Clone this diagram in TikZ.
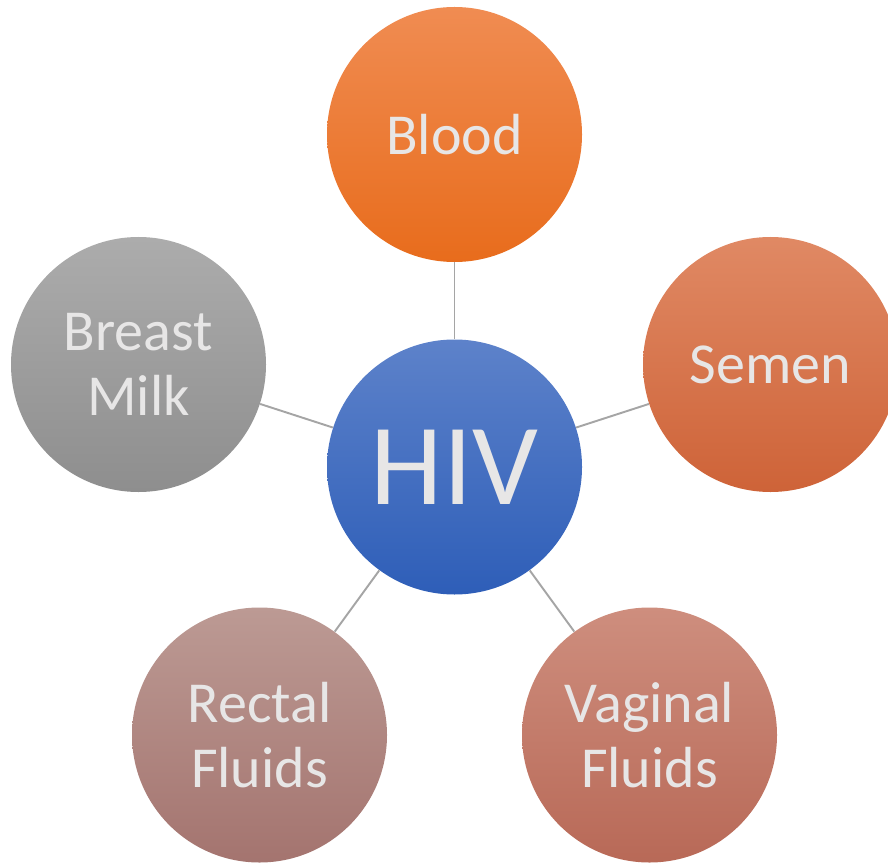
\documentclass[tikz,border=0pt]{standalone}
\usepackage{fontspec}
\setmainfont{Carlito}
\usetikzlibrary{positioning}

\definecolor{txtgray}{HTML}{E7E6E6}
\definecolor{linkgray}{HTML}{A5A5A5}

\begin{document}
\begin{tikzpicture}[
    fluid/.style={circle, minimum size=5.1cm, inner sep=0pt, align=center,
                  text=txtgray, font=\fontsize{33}{37}\selectfont},
    link/.style={draw=linkgray, line width=1.1pt}
  ]
  \useasboundingbox (0,0) rectangle (17.76,-17.24);

  % Centre
  \node[fluid, top color={rgb,255:red,93;green,130;blue,202},
        bottom color={rgb,255:red,46;green,94;blue,184},
        font=\fontsize{66}{70}\selectfont] (hiv) at (9.09, -9.34) {HIV};

  % Body fluids (clockwise from top)
  \node[fluid, top color={rgb,255:red,240;green,140;blue,82},
        bottom color={rgb,255:red,232;green,108;blue,28}] (blood) at (9.09, -2.69) {Blood};
  \node[fluid, top color={rgb,255:red,224;green,137;blue,100},
        bottom color={rgb,255:red,206;green,99;blue,56}] (semen) at (15.41, -7.29) {Semen};
  \node[fluid, top color={rgb,255:red,206;green,142;blue,126},
        bottom color={rgb,255:red,184;green,105;blue,87}] (vaginal) at (12.99, -14.70) {Vaginal\\Fluids};
  \node[fluid, top color={rgb,255:red,188;green,154;blue,148},
        bottom color={rgb,255:red,164;green,116;blue,111}] (rectal) at (5.19, -14.70) {Rectal\\Fluids};
  \node[fluid, top color={rgb,255:red,172;green,172;blue,172},
        bottom color={rgb,255:red,142;green,142;blue,142}] (milk) at (2.77, -7.29) {Breast\\Milk};

  % Spokes
  \foreach \n in {blood, semen, vaginal, rectal, milk}
    \draw[link] (hiv) -- (\n);
\end{tikzpicture}
\end{document}
